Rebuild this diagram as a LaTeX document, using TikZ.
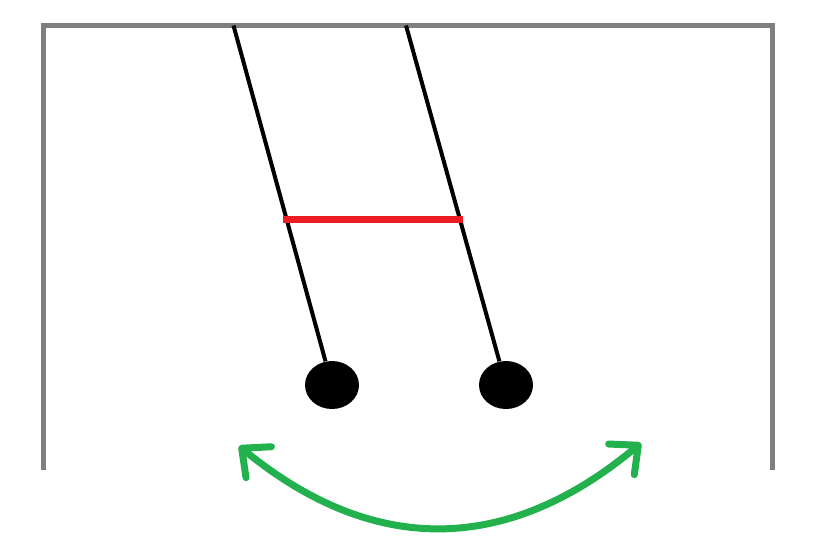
\documentclass[tikz,border=0pt]{standalone}
\usetikzlibrary{positioning,arrows.meta,shapes.geometric}

\begin{document}
\begin{tikzpicture}[
      x=0.5pt, y=-0.5pt,
      frame/.style={draw={rgb,255:red,127;green,127;blue,127},line width=2.5pt},
      string/.style={draw=black,line width=2pt},
      bob/.style={ellipse,fill=black,draw=none,minimum width=27pt,minimum height=24pt,inner sep=0pt},
      link/.style={draw={rgb,255:red,237;green,28;blue,36},line width=3.2pt},
      swing/.style={draw={rgb,255:red,34;green,177;blue,76},line width=3.5pt,
        {Straight Barb[length=11pt,width=20pt,round]}-{Straight Barb[length=11pt,width=20pt,round]}},
    ]
    \useasboundingbox (0,0) rectangle (824,554);

    % Frame
    \draw[frame] (43.5,470) |- (772,25.5) -- (772,470);

    % Pendulums
    \coordinate (pivL) at (233.5,25.5);
    \coordinate (pivR) at (406,25.5);
    \node[bob] (bobL) at (332,385) {};
    \node[bob] (bobR) at (506,385) {};
    \draw[string] (pivL) -- (bobL);
    \draw[string] (pivR) -- (bobR);

    % Coupling
    \coordinate (linkL) at (283,219.5);
    \coordinate (linkR) at (463,219.5);
    \draw[link] (linkL) -- (linkR);

    % Swing
    \coordinate (swL) at (239,446);
    \coordinate (swR) at (641,443);
    \draw[swing] (swL) .. controls (373,556) and (507,555) .. (swR);
  \end{tikzpicture}
\end{document}
